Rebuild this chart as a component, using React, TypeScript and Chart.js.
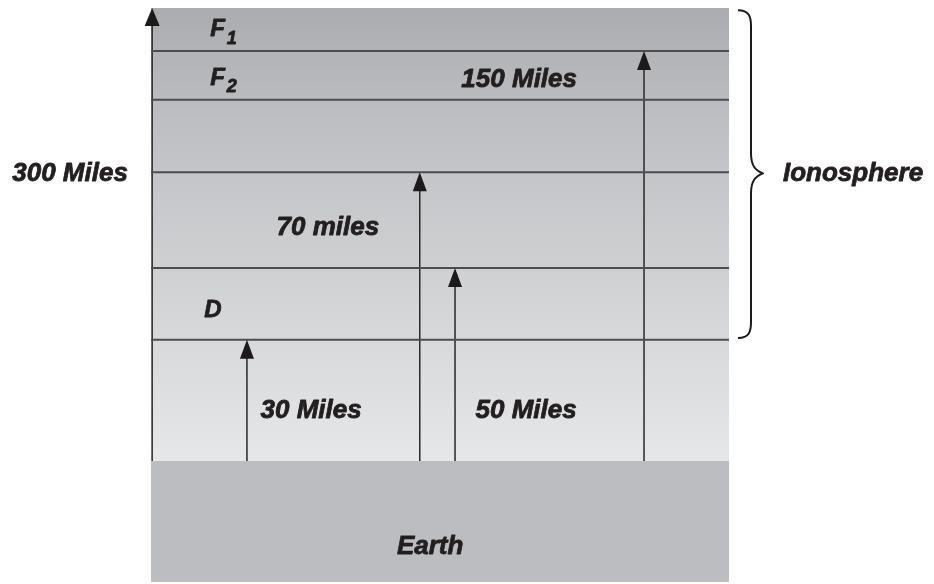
import React, { useEffect, useRef } from 'react';
import { Chart, registerables } from 'chart.js';

Chart.register(...registerables);

// Diagram units: x 0..100 across the panel, y 0..100 from the bottom of the Earth band to the top of the panel
const earthTop = 21.1;
const axisTop = 100;
const axisX = 0.2;
const boundaryLevels = [42.2, 54.7, 71.4, 84.0, 92.5];
const arrowX = [16.6, 46.5, 52.6, 85.3];
const arrowTop = [42.2, 71.4, 54.7, 92.5];

const labelTexts = ['300 Miles', '150 Miles', '70 miles', '30 Miles', '50 Miles', 'Earth'];
const labelX = [-14.0, 63.7, 30.6, 27.7, 64.9, 48.3];
const labelY = [71.1, 87.4, 61.7, 29.9, 29.9, 6.2];

const layerNames = ['F', 'F', 'D'];
const layerSubs = ['1', '2', ''];
const layerX = [11.5, 11.5, 10.7];
const layerY = [96.2, 87.8, 47.4];

const braceLabel = 'Ionosphere';
const braceTop = 99.6;
const braceBottom = 42.5;
const braceTip = 71.2;

const FONT = '"Liberation Sans", Arial, sans-serif';
const TEXT_COLOR = '#231f20';

function boldText(ctx: CanvasRenderingContext2D, t: string, px: number, py: number) {
  ctx.fillText(t, px, py);
  ctx.strokeText(t, px, py);
}

const diagramPlugin = {
  id: 'diagram',
  beforeDraw(chart: any) {
    const { ctx, chartArea, scales } = chart;
    const y = scales.y;
    const top = y.getPixelForValue(axisTop);
    const bottom = y.getPixelForValue(earthTop);
    const g = ctx.createLinearGradient(0, top, 0, bottom);
    g.addColorStop(0, '#abacaf');
    g.addColorStop(0.25, '#bebfc2');
    g.addColorStop(1, '#e6e7e8');
    ctx.save();
    ctx.fillStyle = g;
    ctx.fillRect(chartArea.left, top, chartArea.right - chartArea.left, bottom - top);
    ctx.restore();
  },
  afterDatasetsDraw(chart: any) {
    const { ctx, chartArea, scales } = chart;
    const x = scales.x;
    const y = scales.y;
    ctx.save();
    // arrowheads
    const heads = arrowX.map((v, i) => [v, arrowTop[i], 7, 19]);
    heads.push([axisX, axisTop, 7.5, 18]);
    ctx.fillStyle = '#1c1a1b';
    heads.forEach(([hx, hy, hw, hh]) => {
      const px = x.getPixelForValue(hx);
      const py = y.getPixelForValue(hy);
      ctx.beginPath();
      ctx.moveTo(px, py);
      ctx.lineTo(px - hw, py + hh);
      ctx.lineTo(px + hw, py + hh);
      ctx.closePath();
      ctx.fill();
    });

    // labels
    ctx.fillStyle = TEXT_COLOR;
    ctx.strokeStyle = TEXT_COLOR;
    ctx.lineWidth = 0.8;
    ctx.lineJoin = 'round';
    ctx.textBaseline = 'middle';
    ctx.textAlign = 'center';
    ctx.font = `italic bold 26px ${FONT}`;
    labelTexts.forEach((t, i) => {
      boldText(ctx, t, x.getPixelForValue(labelX[i]), y.getPixelForValue(labelY[i]));
    });

    // layer names with subscripts
    layerNames.forEach((t, i) => {
      const px = x.getPixelForValue(layerX[i]);
      const py = y.getPixelForValue(layerY[i]);
      ctx.font = `italic bold 24px ${FONT}`;
      ctx.textAlign = 'center';
      boldText(ctx, t, px, py);
      if (layerSubs[i]) {
        const w = ctx.measureText(t).width;
        ctx.font = `italic bold 18px ${FONT}`;
        ctx.textAlign = 'left';
        boldText(ctx, layerSubs[i], px + w / 2 + 2, py + 9);
      }
    });

    // brace
    const bx = chartArea.right + 22;
    const bl = chartArea.right + 9;
    const t = y.getPixelForValue(braceTop);
    const b = y.getPixelForValue(braceBottom);
    const m = y.getPixelForValue(braceTip);
    ctx.strokeStyle = '#1c1a1b';
    ctx.lineWidth = 2;
    ctx.beginPath();
    ctx.moveTo(bl, t);
    ctx.bezierCurveTo(bx - 2, t, bx, t + 6, bx, t + 16);
    ctx.lineTo(bx, m - 20);
    ctx.bezierCurveTo(bx, m - 8, bx + 4, m - 3, bx + 12, m);
    ctx.bezierCurveTo(bx + 4, m + 3, bx, m + 8, bx, m + 20);
    ctx.lineTo(bx, b - 16);
    ctx.bezierCurveTo(bx, b - 6, bx - 2, b, bl, b);
    ctx.stroke();

    ctx.font = `italic bold 26px ${FONT}`;
    ctx.textAlign = 'left';
    ctx.fillStyle = TEXT_COLOR;
    ctx.strokeStyle = TEXT_COLOR;
    ctx.lineWidth = 0.8;
    boldText(ctx, braceLabel, bx + 32, m + 1);
    ctx.restore();
  },
};

export default function App() {
  const ref = useRef<HTMLCanvasElement>(null);
  useEffect(() => {
    if (!ref.current) return;
    const datasets: any[] = [];
    datasets.push({
      data: [{ x: 0, y: earthTop }, { x: 100, y: earthTop }],
      showLine: true,
      fill: 'start',
      backgroundColor: '#bcbdc0',
      borderWidth: 0,
      pointRadius: 0,
    });
    boundaryLevels.forEach((v) => {
      datasets.push({
        data: [{ x: 0, y: v }, { x: 100, y: v }],
        showLine: true,
        borderColor: '#4d4d4f',
        borderWidth: 2,
        pointRadius: 0,
        fill: false,
      });
    });
    arrowX.forEach((v, i) => {
      datasets.push({
        data: [{ x: v, y: earthTop }, { x: v, y: arrowTop[i] - 2 }],
        showLine: true,
        borderColor: '#2a2829',
        borderWidth: 1.5,
        pointRadius: 0,
        fill: false,
      });
    });
    datasets.push({
      data: [{ x: axisX, y: earthTop }, { x: axisX, y: axisTop - 2 }],
      showLine: true,
      borderColor: '#2a2829',
      borderWidth: 1.5,
      pointRadius: 0,
      fill: false,
    });

    const chart = new Chart(ref.current, {
      type: 'scatter',
      data: { datasets },
      options: {
        animation: false,
        responsive: true,
        maintainAspectRatio: false,
        events: [],
        layout: { padding: { left: 151, right: 205, top: 8, bottom: 2 } },
        scales: {
          x: { type: 'linear', min: 0, max: 100, display: false },
          y: { type: 'linear', min: 0, max: 100, display: false },
        },
        plugins: { legend: { display: false }, tooltip: { enabled: false } },
      } as any,
      plugins: [diagramPlugin],
    });
    return () => chart.destroy();
  }, []);
  return (
    <div style={{ position: 'absolute', left: 0, top: 0, width: 934, height: 584, background: '#fff' }}>
      <canvas ref={ref} />
    </div>
  );
}
